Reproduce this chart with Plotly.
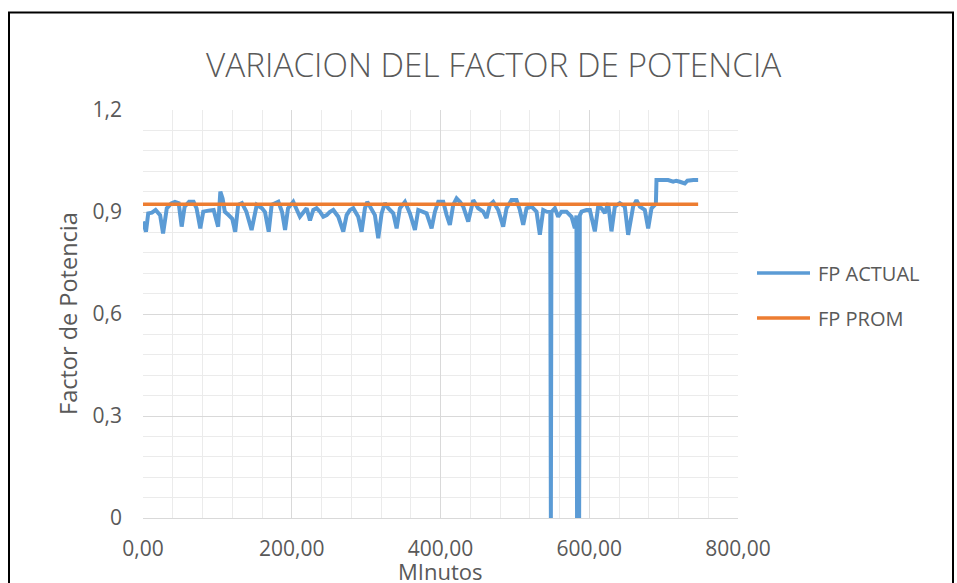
import plotly.graph_objects as go

# Minutes and measured power factor (FP ACTUAL)
minutos = [
    0, 4, 7, 12, 17, 23, 27, 32, 38, 43, 48, 52, 56, 62, 68, 72, 77, 81, 88, 95,
    101, 104, 107, 110, 115, 120, 124, 128, 133, 139, 146, 153, 160, 164, 169, 173,
    182, 187, 191, 195, 202,
    206.6, 211, 216, 220, 224.5, 229, 233.4, 238, 242.4, 247, 251, 255.8, 262.6,
    269.3, 273.8, 278.2, 282.7, 289.4, 293.9, 298.4, 301.5, 307.4, 311.8, 316.3,
    320.8, 325.3, 329.8, 336.5, 341, 345.4, 352.2, 358.9, 365.6, 370.1, 374.6,
    381.3, 388, 392.5, 397, 403.7,
    408.2, 412.6, 417.1, 421.6, 426.1, 430.6, 437.3, 444, 450.7, 457.4, 461.9,
    466.4, 470.9, 477.6, 484.3, 488.8, 495.5, 502.2, 506.7, 511.2, 515.7, 522.4,
    529.1, 533.6, 538.1, 542.6, 547.6, 548.4, 549.2, 553.8, 558.2, 562.7, 569.4,
    576.2, 580.6, 582.8, 583.6, 586.4, 587.3, 589.6, 596.3,
    600.8, 607.5, 612, 616.5, 621, 625.4, 629.9, 634.4, 641.1, 647.8, 652.3, 659,
    663.5, 668, 674.7, 679.2, 683.7, 688.2, 689.6, 690.4, 694.9, 700, 706, 712.8,
    717, 721.8, 728.5, 732, 735.2, 740, 746.4,
]
fp_actual = [
    0.872, 0.842, 0.896, 0.898, 0.906, 0.891, 0.837, 0.911, 0.925, 0.930, 0.926,
    0.857, 0.916, 0.930, 0.930, 0.911, 0.852, 0.901, 0.904, 0.906,
    0.857, 0.960, 0.940, 0.901, 0.891, 0.880, 0.842, 0.921, 0.926, 0.901, 0.847,
    0.921, 0.911, 0.900, 0.842, 0.921, 0.930, 0.900, 0.847, 0.911, 0.930,
    0.906, 0.886, 0.900, 0.911, 0.875, 0.906, 0.911, 0.901, 0.886, 0.891, 0.900,
    0.906, 0.886, 0.842, 0.891, 0.906, 0.911, 0.886, 0.842, 0.911, 0.930, 0.906,
    0.891, 0.823, 0.896, 0.926, 0.911, 0.896, 0.852, 0.911, 0.930, 0.896, 0.847,
    0.906, 0.901, 0.896, 0.852, 0.901, 0.930, 0.930,
    0.891, 0.862, 0.921, 0.940, 0.930, 0.916, 0.872, 0.935, 0.911, 0.901, 0.882,
    0.921, 0.930, 0.906, 0.857, 0.911, 0.935, 0.935, 0.906, 0.862, 0.911, 0.916,
    0.901, 0.833, 0.906, 0.901, 0.900, 0.0, 0.900, 0.911, 0.886, 0.901, 0.901,
    0.886, 0.852, 0.890, 0.0, 0.0, 0.890, 0.901, 0.906,
    0.906, 0.843, 0.916, 0.911, 0.897, 0.926, 0.843, 0.916, 0.926, 0.916, 0.833,
    0.916, 0.935, 0.916, 0.906, 0.852, 0.911, 0.921, 0.925, 0.994, 0.994, 0.992,
    0.994, 0.989, 0.992, 0.989, 0.984, 0.992, 0.994, 0.994, 0.994,
]

# Average power factor (FP PROM)
minutos_prom = [0, 746.4]
fp_prom = [0.923, 0.923]

x_ticks = [0, 200, 400, 600, 800]
x_tick_text = ["0,00", "200,00", "400,00", "600,00", "800,00"]
y_ticks = [0, 0.3, 0.6, 0.9, 1.2]
y_tick_text = ["0", "0,3", "0,6", "0,9", "1,2"]

titulo = "VARIACION DEL FACTOR DE POTENCIA"
titulo_x = "MInutos"
titulo_y = "Factor de Potencia"
series = [("FP ACTUAL", "#5b9bd5"), ("FP PROM", "#ed7d31")]

FONT = "Open Sans"
GRIS = "#595959"

W, H = 957, 583
L, R, T, B = 143, 219, 110, 65
PW, PH = W - L - R, H - T - B


def px_x(px):
    return (px - L) / PW


def px_y(py):
    return (H - B - py) / PH


fig = go.Figure()
fig.add_trace(go.Scatter(x=minutos, y=fp_actual, mode="lines", name=series[0][0],
                         line=dict(color=series[0][1], width=4), showlegend=False))
fig.add_trace(go.Scatter(x=minutos_prom, y=fp_prom, mode="lines", name=series[1][0],
                         line=dict(color=series[1][1], width=3.5), showlegend=False))

fig.update_xaxes(
    range=[0, 800], tickvals=x_ticks, ticktext=x_tick_text,
    showgrid=True, gridcolor="#d9d9d9", gridwidth=1,
    minor=dict(dtick=40, showgrid=True, gridcolor="#ebebeb", gridwidth=1),
    showline=True, linecolor="#d9d9d9", linewidth=1,
    zeroline=False, ticks="", ticklabelstandoff=12,
    tickfont=dict(family=FONT, size=21, color=GRIS), fixedrange=True,
)
fig.update_yaxes(
    range=[0, 1.2], tickvals=y_ticks, ticktext=y_tick_text,
    showgrid=True, gridcolor="#d9d9d9", gridwidth=1,
    minor=dict(dtick=0.06, showgrid=True, gridcolor="#ebebeb", gridwidth=1),
    showline=False, zeroline=False, ticks="", ticklabelstandoff=20,
    tickfont=dict(family=FONT, size=21, color=GRIS), fixedrange=True,
)

annotations = [
    dict(text=titulo, x=px_x(493), y=px_y(64), xref="paper", yref="paper",
         xanchor="center", yanchor="middle", showarrow=False,
         font=dict(family=FONT, size=33.3, color=GRIS, weight=300)),
    dict(text=titulo_x, x=px_x(440), y=px_y(571), xref="paper", yref="paper",
         xanchor="center", yanchor="middle", showarrow=False,
         font=dict(family=FONT, size=22, color=GRIS)),
    dict(text=titulo_y, x=px_x(68), y=px_y(314), xref="paper", yref="paper",
         xanchor="center", yanchor="middle", showarrow=False, textangle=-90,
         font=dict(family=FONT, size=23.5, color=GRIS)),
]

shapes = [
    # chart frame
    dict(type="rect", xref="paper", yref="paper",
         x0=px_x(9), x1=px_x(953), y0=px_y(600), y1=px_y(12.5),
         line=dict(color="#000000", width=2), fillcolor="rgba(0,0,0,0)", layer="above"),
]

# legend drawn to the right of the plot
for i, (nombre, color) in enumerate(series):
    yy = 273 + i * 45
    shapes.append(dict(type="line", xref="paper", yref="paper",
                       x0=px_x(757), x1=px_x(810), y0=px_y(yy), y1=px_y(yy),
                       line=dict(color=color, width=3.5)))
    annotations.append(dict(text=nombre, x=px_x(816), y=px_y(yy), xref="paper", yref="paper",
                            xanchor="left", yanchor="middle", showarrow=False,
                            font=dict(family=FONT, size=20, color=GRIS)))

fig.update_layout(
    width=W, height=H, autosize=False,
    margin=dict(l=L, r=R, t=T, b=B, pad=0),
    paper_bgcolor="white", plot_bgcolor="white",
    annotations=annotations, shapes=shapes, showlegend=False,
)

fig.write_html("out.html", config={"displayModeBar": False})
